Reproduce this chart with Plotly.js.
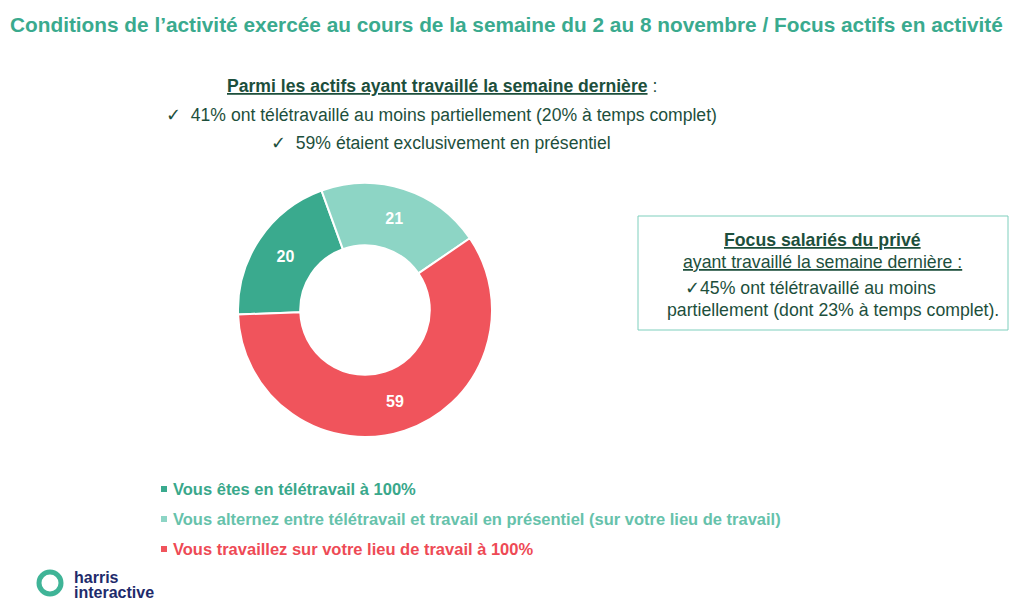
<!DOCTYPE html>
<html>
<head>
<meta charset="utf-8">
<script src="https://cdn.plot.ly/plotly-3.0.1.min.js"></script>
<style>
  html, body { margin: 0; padding: 0; background: #fff; }
  #chart { width: 1024px; height: 605px; }
</style>
</head>
<body>
<div id="chart"></div>
<script>
// slices, in legend order
var labels = [
  'Vous êtes en télétravail à 100%',
  'Vous alternez entre télétravail et travail en présentiel (sur votre lieu de travail)',
  'Vous travaillez sur votre lieu de travail à 100%'
];
var values = [20, 21, 59];
var sliceColors = ['#3aaa8e', '#8dd5c5', '#f0545c'];
var legendTextColors = ['#39a88b', '#66c2ab', '#ee4a55'];

var titleText = 'Conditions de l’activité exercée au cours de la semaine du 2 au 8 novembre / Focus actifs en activité';
var headLines = [
  '<b><span style="text-decoration:underline">Parmi les actifs ayant travaillé la semaine dernière</span></b> :',
  '✓  41% ont télétravaillé au moins partiellement (20% à temps complet)',
  '✓  59% étaient exclusivement en présentiel'
];
var boxLines = [
  '<b><span style="text-decoration:underline">Focus salariés du privé</span></b>',
  '<span style="text-decoration:underline">ayant travaillé la semaine dernière :</span>',
  '✓45% ont télétravaillé au moins',
  'partiellement (dont 23% à temps complet).'
];
var logoLines = ['harris', 'interactive'];

var W = 1024, H = 605;
function px(x) { return x / W; }
function py(y) { return 1 - y / H; }

var darkText = '#1d4f3c';
var font = 'Liberation Sans, Arial, sans-serif';

var trace = {
  type: 'pie',
  labels: labels,
  values: values,
  marker: { colors: sliceColors, line: { color: '#ffffff', width: 2 } },
  hole: 0.51,
  sort: false,
  direction: 'clockwise',
  rotation: -92,
  textinfo: 'value',
  textposition: 'inside',
  insidetextorientation: 'horizontal',
  textfont: { family: font, size: 16, color: '#ffffff', weight: 'bold' },
  domain: { x: [px(238), px(492)], y: [py(437), py(183)] },
  showlegend: false,
  hoverinfo: 'label+value'
};

var annotations = [];
annotations.push({
  text: '<b>' + titleText + '</b>', xref: 'paper', yref: 'paper',
  x: px(506), y: py(24), xanchor: 'center', yanchor: 'middle', showarrow: false,
  font: { family: font, size: 20.8, color: '#3aaa8e' }
});

var headPos = [[442, 86], [441, 115], [441, 143]];
headLines.forEach(function (t, i) {
  annotations.push({
    text: t, xref: 'paper', yref: 'paper', x: px(headPos[i][0]), y: py(headPos[i][1]),
    xanchor: 'center', yanchor: 'middle', showarrow: false,
    font: { family: font, size: 17.6, color: darkText }
  });
});

var boxPos = [[822, 240], [822, 262], [810, 288], [833, 310]];
boxLines.forEach(function (t, i) {
  annotations.push({
    text: t, xref: 'paper', yref: 'paper', x: px(boxPos[i][0]), y: py(boxPos[i][1]),
    xanchor: 'center', yanchor: 'middle', showarrow: false,
    font: { family: font, size: 17.7, color: darkText }
  });
});

var shapes = [{
  type: 'rect', xref: 'paper', yref: 'paper',
  x0: px(638), x1: px(1008), y0: py(330), y1: py(216),
  line: { color: '#7fcfbd', width: 1 }, fillcolor: 'rgba(0,0,0,0)'
}];

labels.forEach(function (lab, i) {
  var yy = 489 + i * 30;
  shapes.push({
    type: 'rect', xref: 'paper', yref: 'paper',
    x0: px(161), x1: px(167), y0: py(yy + 3), y1: py(yy - 3),
    line: { width: 0 }, fillcolor: sliceColors[i]
  });
  annotations.push({
    text: '<b>' + lab + '</b>', xref: 'paper', yref: 'paper',
    x: px(171), y: py(yy), xanchor: 'left', yanchor: 'middle', showarrow: false,
    font: { family: font, size: 16.5, color: legendTextColors[i] }
  });
});

// logo
shapes.push({
  type: 'circle', xref: 'paper', yref: 'paper',
  x0: px(39), x1: px(61), y0: py(594), y1: py(572),
  line: { color: '#3fb497', width: 5 }, fillcolor: 'rgba(0,0,0,0)'
});
logoLines.forEach(function (t, i) {
  annotations.push({
    text: '<b>' + t + '</b>', xref: 'paper', yref: 'paper',
    x: px(72), y: py(577 + i * 15), xanchor: 'left', yanchor: 'middle', showarrow: false,
    font: { family: font, size: 16, color: '#1e2b6b' }
  });
});

var layout = {
  width: W, height: H,
  margin: { l: 0, r: 0, t: 0, b: 0 },
  paper_bgcolor: '#ffffff',
  showlegend: false,
  annotations: annotations,
  shapes: shapes
};

Plotly.newPlot('chart', [trace], layout, { displayModeBar: false, staticPlot: true });
</script>
</body>
</html>
